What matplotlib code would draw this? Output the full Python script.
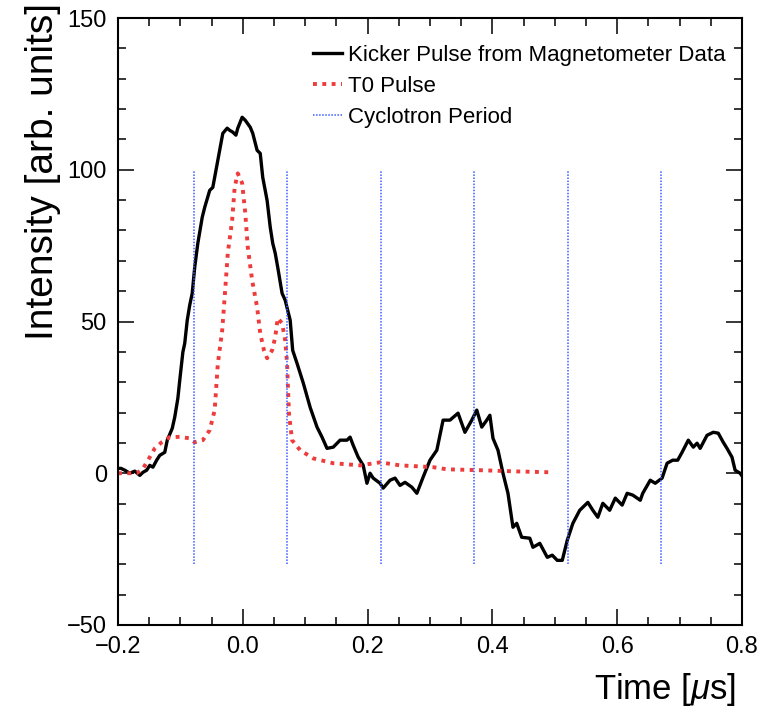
import matplotlib
matplotlib.use('Agg')
import matplotlib.pyplot as plt
import matplotlib.ticker as tckr

plt.rcParams['font.family'] = ['Liberation Sans', 'DejaVu Sans']
plt.rcParams['mathtext.fontset'] = 'custom'
plt.rcParams['mathtext.it'] = 'Liberation Sans:italic'
plt.rcParams['mathtext.rm'] = 'Liberation Sans'

# Kicker pulse from magnetometer data (time in us, intensity in arb. units)
kick_t = [-0.200, -0.195, -0.189, -0.181, -0.173, -0.165, -0.160, -0.154, -0.149, -0.144,
          -0.138, -0.133, -0.125, -0.121, -0.113, -0.109, -0.104, -0.101, -0.096, -0.093,
          -0.089, -0.085, -0.081, -0.077, -0.072, -0.065, -0.061, -0.053, -0.048, -0.040,
          -0.032, -0.025, -0.021, -0.016, -0.011, -0.008, -0.001, 0.004, 0.012, 0.016,
          0.023, 0.028, 0.032, 0.039, 0.044, 0.048, 0.052, 0.056, 0.063, 0.068,
          0.076, 0.080, 0.087, 0.097, 0.108, 0.119, 0.127, 0.135, 0.145, 0.156,
          0.167, 0.172, 0.177, 0.185, 0.193, 0.199, 0.204, 0.209, 0.220, 0.225,
          0.236, 0.244, 0.252, 0.260, 0.271, 0.279, 0.289, 0.300, 0.311, 0.321,
          0.332, 0.345, 0.356, 0.367, 0.375, 0.383, 0.391, 0.396, 0.401, 0.409,
          0.417, 0.425, 0.433, 0.439, 0.447, 0.460, 0.465, 0.476, 0.488, 0.496,
          0.504, 0.512, 0.520, 0.529, 0.540, 0.553, 0.561, 0.569, 0.577, 0.588,
          0.597, 0.608, 0.616, 0.625, 0.637, 0.641, 0.653, 0.661, 0.672, 0.680,
          0.689, 0.697, 0.704, 0.714, 0.722, 0.728, 0.733, 0.744, 0.754, 0.762,
          0.770, 0.776, 0.784, 0.789, 0.797, 0.805]
kick_y = [1.6, 1.6, 1.0, 0.0, 0.7, -0.7, 0.3, 1.0, 2.6, 2.0,
          4.3, 5.9, 6.9, 10.9, 14.8, 18.5, 24.7, 30.6, 39.9, 42.8,
          50.4, 55.4, 59.3, 67.9, 75.8, 84.3, 87.6, 93.2, 94.2, 103.1,
          112.0, 113.7, 113.0, 112.4, 111.4, 113.7, 117.3, 116.3, 114.0, 112.0,
          106.4, 105.4, 97.5, 89.9, 81.1, 75.8, 72.5, 67.9, 59.3, 57.0,
          50.4, 40.5, 36.2, 29.7, 21.7, 15.2, 11.9, 8.2, 8.6, 10.9,
          10.9, 11.9, 9.2, 5.3, 2.6, -3.3, 0.0, -1.6, -3.3, -4.9,
          -2.3, -1.6, -4.0, -3.0, -4.6, -6.6, -1.3, 4.3, 7.6, 17.5,
          17.5, 19.8, 13.5, 17.5, 20.8, 15.2, 17.5, 19.1, 11.5, 7.6,
          0.0, -6.6, -17.8, -16.5, -21.1, -21.4, -24.4, -23.1, -27.7, -27.0,
          -28.7, -28.7, -22.1, -16.5, -12.2, -9.6, -12.2, -14.5, -9.9, -12.2,
          -8.2, -10.5, -6.6, -7.2, -8.9, -6.6, -2.3, -3.3, -1.6, 3.3,
          4.3, 4.3, 6.9, 10.9, 8.6, 9.9, 8.2, 12.5, 13.5, 13.2,
          10.2, 8.2, 5.3, 1.0, 0.0, -2.3]

# T0 pulse
t0_t = [-0.200, -0.170, -0.160, -0.149, -0.141, -0.130, -0.117, -0.101, -0.085, -0.077,
        -0.064, -0.053, -0.045, -0.040, -0.033, -0.029, -0.024, -0.017, -0.013, -0.008,
        -0.001, 0.004, 0.008, 0.015, 0.023, 0.028, 0.034, 0.039, 0.047, 0.052,
        0.056, 0.063, 0.068, 0.071, 0.074, 0.079, 0.092, 0.113, 0.145, 0.188,
        0.220, 0.252, 0.305, 0.327, 0.380, 0.440, 0.497]
t0_y = [0.0, 0.0, 1.5, 5.3, 8.2, 10.2, 11.9, 12.0, 11.5, 10.2,
        10.9, 14.2, 20.8, 36.0, 47.0, 58.0, 72.5, 83.4, 94.2, 98.8,
        95.6, 85.7, 74.5, 63.6, 54.7, 46.1, 40.5, 37.9, 40.5, 44.8,
        51.1, 49.4, 43.8, 36.2, 19.8, 10.9, 7.6, 4.9, 3.3, 2.6,
        3.6, 2.6, 2.0, 1.3, 1.0, 0.6, 0.3]

# Cyclotron period markers
cyc_t = [-0.078, 0.071, 0.221, 0.371, 0.521, 0.670]
cyc_lo = -30
cyc_hi = 100

fig = plt.figure(figsize=(7.7, 7.12), dpi=100)
ax = fig.add_axes([0.1532, 0.1222, 0.8104, 0.8525])

ax.plot(kick_t, kick_y, color='black', lw=2.4, label='Kicker Pulse from Magnetometer Data')
ax.plot(t0_t, t0_y, color='#ee3b3b', lw=2.8, ls=(0, (1, 1.4)), label='T0 Pulse')
ax.vlines(cyc_t, cyc_lo, cyc_hi, colors='#3d5cff', linestyles=(0, (1, 1)), lw=1.1,
          label='Cyclotron Period')

ax.set_xlim(-0.2, 0.8)
ax.set_ylim(-50, 150)

ax.xaxis.set_major_locator(tckr.MultipleLocator(0.2))
ax.xaxis.set_minor_locator(tckr.MultipleLocator(0.05))
ax.yaxis.set_major_locator(tckr.MultipleLocator(50))
ax.yaxis.set_minor_locator(tckr.MultipleLocator(10))
ax.tick_params(which='both', direction='in', top=True, right=True, width=1.1, labelsize=17)
ax.tick_params(which='major', length=11.5)
ax.tick_params(which='minor', length=5.8)
ax.tick_params(axis='y', pad=8)
ax.tick_params(axis='x', pad=8)
for s in ax.spines.values():
    s.set_linewidth(1.5)

ax.set_xlabel(r'Time [$\mu$s]', fontsize=25, loc='right')
ax.xaxis.set_label_coords(0.99, -0.075)
ax.set_ylabel('Intensity [arb. units]', fontsize=28, loc='top')
ax.yaxis.set_label_coords(-0.092, 1.025)

ax.legend(loc='upper left', bbox_to_anchor=(0.298, 0.97), frameon=False, fontsize=16,
          handlelength=1.3, handletextpad=0.3, labelspacing=0.45, borderaxespad=0)

fig.savefig('out.png', dpi=100)
